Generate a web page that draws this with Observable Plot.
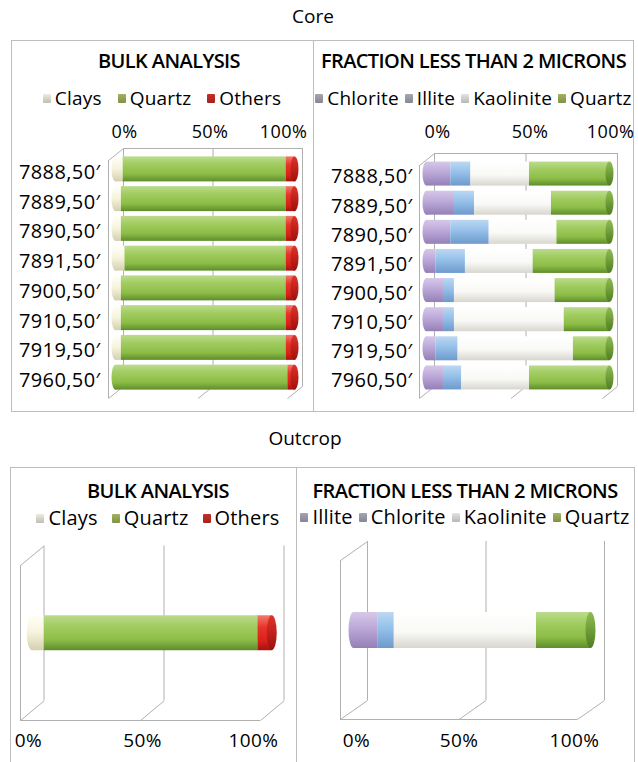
<!DOCTYPE html>
<html>
<head>
<meta charset="utf-8">
<script src="https://cdn.jsdelivr.net/npm/d3@7"></script>
<script src="https://cdn.jsdelivr.net/npm/@observablehq/plot@0.6"></script>
<style>
html,body{margin:0;padding:0;background:#fff;}
#page{position:relative;width:638px;height:762px;overflow:hidden;font-family:"Open Sans",sans-serif;color:#000;}
.box{position:absolute;border:1px solid #bdbdbd;box-sizing:border-box;}
.vline{position:absolute;width:1px;background:#bdbdbd;}
.txt{position:absolute;text-align:center;line-height:24px;white-space:nowrap;}
.head{font-size:19px;font-weight:500;}
.title{font-size:20px;font-weight:600;letter-spacing:-0.6px;}
.legend{position:absolute;display:flex;justify-content:center;align-items:center;gap:8px;font-size:19px;line-height:24px;white-space:nowrap;letter-spacing:0.2px;}
.legend .item{display:flex;align-items:center;gap:4px;}
.legend .sw{width:8px;height:9px;display:inline-block;border-radius:1px;}
.panel{position:absolute;}
</style>
</head>
<body>
<div id="page"></div>
<svg width="0" height="0" style="position:absolute">
  <defs>
    <linearGradient id="gGreen" x1="0" y1="0" x2="0" y2="1">
      <stop offset="0" stop-color="#bcdb8e"/><stop offset="0.3" stop-color="#a2cd62"/>
      <stop offset="0.7" stop-color="#8dbd47"/><stop offset="1" stop-color="#5e8d2b"/>
    </linearGradient>
    <linearGradient id="gGreenCap" x1="0" y1="0" x2="0" y2="1">
      <stop offset="0" stop-color="#8fbd52"/><stop offset="1" stop-color="#4f7d22"/>
    </linearGradient>
    <linearGradient id="gRed" x1="0" y1="0" x2="0" y2="1">
      <stop offset="0" stop-color="#f27a6c"/><stop offset="0.35" stop-color="#e8332a"/>
      <stop offset="0.75" stop-color="#d9201a"/><stop offset="1" stop-color="#a3130e"/>
    </linearGradient>
    <linearGradient id="gRedCap" x1="0" y1="0" x2="0" y2="1">
      <stop offset="0" stop-color="#e0332a"/><stop offset="1" stop-color="#9e100b"/>
    </linearGradient>
    <linearGradient id="gCream" x1="0" y1="0" x2="0" y2="1">
      <stop offset="0" stop-color="#fffff8"/><stop offset="0.5" stop-color="#f6f3dc"/>
      <stop offset="1" stop-color="#d3cfae"/>
    </linearGradient>
    <linearGradient id="gCreamCap" x1="0" y1="0" x2="0" y2="1">
      <stop offset="0" stop-color="#eeebd0"/><stop offset="1" stop-color="#c4c09c"/>
    </linearGradient>
    <linearGradient id="gPurple" x1="0" y1="0" x2="0" y2="1">
      <stop offset="0" stop-color="#d6c8e8"/><stop offset="0.45" stop-color="#bca8d9"/>
      <stop offset="1" stop-color="#9580b6"/>
    </linearGradient>
    <linearGradient id="gPurpleCap" x1="0" y1="0" x2="0" y2="1">
      <stop offset="0" stop-color="#b29fd0"/><stop offset="1" stop-color="#8570a8"/>
    </linearGradient>
    <linearGradient id="gBlue" x1="0" y1="0" x2="0" y2="1">
      <stop offset="0" stop-color="#bcd8f2"/><stop offset="0.45" stop-color="#95c0ea"/>
      <stop offset="1" stop-color="#6e9acb"/>
    </linearGradient>
    <linearGradient id="gBlueCap" x1="0" y1="0" x2="0" y2="1">
      <stop offset="0" stop-color="#8ab6e2"/><stop offset="1" stop-color="#5f8abd"/>
    </linearGradient>
    <linearGradient id="gWhite" x1="0" y1="0" x2="0" y2="1">
      <stop offset="0" stop-color="#ffffff"/><stop offset="0.55" stop-color="#f9f9f6"/>
      <stop offset="1" stop-color="#d8d6cf"/>
    </linearGradient>
    <linearGradient id="gWhiteCap" x1="0" y1="0" x2="0" y2="1">
      <stop offset="0" stop-color="#ecebe6"/><stop offset="1" stop-color="#c9c7bf"/>
    </linearGradient>
  </defs>
</svg>
<script>
// ---------------- DATA ----------------
const coreDepths = ["7888,50′", "7889,50′", "7890,50′", "7891,50′", "7900,50′", "7910,50′", "7919,50′", "7960,50′"];

const bulkCategories = ["Clays", "Quartz", "Others"];
const coreBulkClays  = [4, 3, 3, 5, 3, 3, 3, 0];
const coreBulkQuartz = [91, 92, 92, 90, 92, 92, 92, 96];
const coreBulkOthers = [5, 5, 5, 5, 5, 5, 5, 4];

const coreFracCategories = ["Chlorite", "Illite", "Kaolinite", "Quartz"];
const coreFracChlorite  = [13, 15, 13, 5, 9, 9, 5, 9];
const coreFracIllite    = [11, 11, 21, 16, 6, 6, 12, 10];
const coreFracKaolinite = [32, 42, 37, 37, 55, 60, 63, 37];
const coreFracQuartz    = [44, 32, 29, 42, 30, 25, 20, 44];

const outcropRows = ["Outcrop"];
const outcropBulkClays  = [5];
const outcropBulkQuartz = [89];
const outcropBulkOthers = [6];

const outcropFracCategories = ["Illite", "Chlorite", "Kaolinite", "Quartz"];
const outcropFracIllite    = [10];
const outcropFracChlorite  = [7];
const outcropFracKaolinite = [60];
const outcropFracQuartz    = [23];

const percentTicks = [0, 50, 100];

// ---------------- STYLE ----------------
const LINE = "#b0b0b0";
const bulkFills = ["url(#gCream)", "url(#gGreen)", "url(#gRed)"];
const bulkCaps  = ["url(#gCreamCap)", "url(#gGreenCap)", "url(#gRedCap)"];
const fracFills = ["url(#gPurple)", "url(#gBlue)", "url(#gWhite)", "url(#gGreen)"];
const fracCaps  = ["url(#gPurpleCap)", "url(#gBlueCap)", "url(#gWhiteCap)", "url(#gGreenCap)"];
const bulkSwatches = ["#ecebdc", "#a2b25a", "#c92d27"];
const fracSwatches = ["#a9a2b3", "#a3a8b2", "#e3e3e3", "#a2b25a"];

const page = document.getElementById("page");

function addBox(l, t, w, h) {
  const d = document.createElement("div");
  d.className = "box";
  Object.assign(d.style, {left: l + "px", top: t + "px", width: w + "px", height: h + "px"});
  page.appendChild(d);
}
function addVLine(x, t, h) {
  const d = document.createElement("div");
  d.className = "vline";
  Object.assign(d.style, {left: x + "px", top: t + "px", height: h + "px"});
  page.appendChild(d);
}
function addText(text, cls, left, width, centerY) {
  const d = document.createElement("div");
  d.className = "txt " + cls;
  d.textContent = text;
  Object.assign(d.style, {left: left + "px", width: width + "px", top: (centerY - 12) + "px"});
  page.appendChild(d);
}
function addLegend(cats, colors, left, width, centerY, gap, size) {
  const d = document.createElement("div");
  d.className = "legend";
  Object.assign(d.style, {left: left + "px", width: width + "px", top: (centerY - 12) + "px", gap: gap + "px", fontSize: size + "px"});
  cats.forEach((c, i) => {
    const it = document.createElement("span");
    it.className = "item";
    const sw = document.createElement("span");
    sw.className = "sw";
    sw.style.background = `linear-gradient(${colors[i]}, ${d3.color(colors[i]).darker(0.6)})`;
    const tx = document.createElement("span");
    tx.textContent = c;
    it.appendChild(sw); it.appendChild(tx);
    d.appendChild(it);
  });
  page.appendChild(d);
}

function makePanel(cfg) {
  const {rows, cats, series, fills, caps, box, front, depth, barH, capR, axis, tickDx, labelY, showRows} = cfg;
  const n = rows.length;
  const spanPx = front.x100 - front.x0;
  const rowPx = (front.bottom - front.top) / n;
  const DX = depth[0] / spanPx * 100;
  const DY = -depth[1] / rowPx;
  const hb = barH / 2 / rowPx;
  const cu = capR / spanPx * 100;

  const segs = [], leftCaps = [], rightCaps = [];
  rows.forEach((r, i) => {
    let cum = 0, first = null, last = null;
    cats.forEach((c, k) => {
      const v = series[k][i];
      if (v > 0) {
        segs.push({row: i, cat: c, x1: cum, x2: cum + v});
        if (first === null) first = c;
        last = c;
      }
      cum += v;
    });
    leftCaps.push({row: i, cat: first, x: 0});
    rightCaps.push({row: i, cat: last + " cap", x: cum});
  });

  const yMid = d => d.row + DY / 2;
  const top = -0.5, bottom = n - 0.5;
  const ticks = percentTicks.map((t, i) => ({t, dx: tickDx[i]}));

  const marks = [
    Plot.ruleX(percentTicks, {x: t => t + DX, y1: top + DY, y2: bottom + DY, stroke: LINE}),
    Plot.link(percentTicks, {x1: t => t, y1: bottom, x2: t => t + DX, y2: bottom + DY, stroke: LINE}),
    Plot.ruleX([0], {y1: top, y2: bottom, stroke: LINE}),
    Plot.link([0], {x1: 0, y1: top, x2: DX, y2: top + DY, stroke: LINE}),
  ];
  if (axis === "top") {
    marks.push(Plot.ruleY([top + DY], {x1: DX, x2: 100 + DX, stroke: LINE}));
  } else {
    marks.push(Plot.ruleY([bottom], {x1: 0, x2: 100, stroke: LINE}));
  }
  marks.push(
    Plot.rect(leftCaps, {x1: d => d.x + DX / 2 - cu, x2: d => d.x + DX / 2 + cu,
      y1: d => yMid(d) - hb, y2: d => yMid(d) + hb, fill: "cat", rx: capR, ry: barH / 2}),
    Plot.rect(segs, {x1: d => d.x1 + DX / 2, x2: d => d.x2 + DX / 2,
      y1: d => yMid(d) - hb, y2: d => yMid(d) + hb, fill: "cat"}),
    Plot.rect(rightCaps, {x1: d => d.x + DX / 2 - cu, x2: d => d.x + DX / 2 + cu,
      y1: d => yMid(d) - hb, y2: d => yMid(d) + hb, fill: "cat", rx: capR, ry: barH / 2})
  );
  if (axis === "top") {
    ticks.forEach(k => marks.push(Plot.text([k], {x: d => d.t + DX, y: top + DY,
      dy: labelY - (front.top - depth[1]), dx: k.dx, text: d => d.t + "%",
      fontSize: cfg.tickSize, fill: "#000"})));
  } else {
    ticks.forEach(k => marks.push(Plot.text([k], {x: d => d.t, y: bottom,
      dy: labelY - front.bottom, dx: k.dx, text: d => d.t + "%",
      fontSize: cfg.tickSize, fill: "#000"})));
  }
  if (showRows) {
    marks.push(Plot.text(rows, {x: 0, y: (d, i) => i + DY / 4, text: d => d,
      textAnchor: "end", dx: cfg.rowDx, fontSize: cfg.rowSize, fill: "#000"}));
  }

  const chart = Plot.plot({
    width: box.width,
    height: box.height,
    marginLeft: front.x0 - box.left,
    marginRight: box.left + box.width - front.x100,
    marginTop: front.top - box.top,
    marginBottom: box.top + box.height - front.bottom,
    x: {domain: [0, 100], axis: null},
    y: {domain: [top, bottom], reverse: true, axis: null},
    color: {type: "ordinal", domain: [...cats, ...cats.map(c => c + " cap")], range: [...fills, ...caps]},
    style: {fontFamily: "Open Sans, sans-serif", background: "transparent", overflow: "visible", letterSpacing: "0.4px"},
    marks
  });
  const wrap = document.createElement("div");
  wrap.className = "panel";
  Object.assign(wrap.style, {left: box.left + "px", top: box.top + "px"});
  wrap.appendChild(chart);
  page.appendChild(wrap);
}

// ---------------- LAYOUT ----------------
addText("Core", "head", 0, 626, 16);
addBox(11, 40, 623, 372);
addVLine(313, 40, 372);

addText("BULK ANALYSIS", "title", 11, 316, 61);
addLegend(bulkCategories, bulkSwatches, 11, 302, 98, 16, 19);
addText("FRACTION LESS THAN 2 MICRONS", "title", 313, 321, 61);
addLegend(coreFracCategories, fracSwatches, 313, 321, 98, 6, 19);

makePanel({
  rows: coreDepths, cats: bulkCategories,
  series: [coreBulkClays, coreBulkQuartz, coreBulkOthers],
  fills: bulkFills, caps: bulkCaps,
  box: {left: 11, top: 112, width: 302, height: 298},
  front: {x0: 108, x100: 287, top: 160, bottom: 398},
  depth: [15, 12], barH: 25, capR: 4,
  axis: "top", tickDx: [1, -3, -19], labelY: 132, tickSize: 18,
  showRows: true, rowDx: -8, rowSize: 20
});
makePanel({
  rows: coreDepths, cats: coreFracCategories,
  series: [coreFracChlorite, coreFracIllite, coreFracKaolinite, coreFracQuartz],
  fills: fracFills, caps: fracCaps,
  box: {left: 313, top: 112, width: 320, height: 298},
  front: {x0: 419, x100: 602, top: 165, bottom: 398},
  depth: [15, 12], barH: 24, capR: 4,
  axis: "top", tickDx: [3, 4, -7], labelY: 132, tickSize: 18,
  showRows: true, rowDx: -7, rowSize: 20
});

addText("Outcrop", "head", 0, 610, 438);
addBox(10, 467, 625, 310);
addVLine(296, 467, 300);

addText("BULK ANALYSIS", "title", 10, 296, 491);
addLegend(bulkCategories, bulkSwatches, 10, 296, 518, 14, 20);
addText("FRACTION LESS THAN 2 MICRONS", "title", 296, 338, 491);
addLegend(outcropFracCategories, fracSwatches, 296, 338, 517, 6, 20);

makePanel({
  rows: outcropRows, cats: bulkCategories,
  series: [outcropBulkClays, outcropBulkQuartz, outcropBulkOthers],
  fills: bulkFills, caps: bulkCaps,
  box: {left: 10, top: 530, width: 286, height: 232},
  front: {x0: 20, x100: 260, top: 565, bottom: 720},
  depth: [23.5, 19.5], barH: 35, capR: 5,
  axis: "bottom", tickDx: [8, 2, -7], labelY: 740, tickSize: 19,
  showRows: false
});
makePanel({
  rows: outcropRows, cats: outcropFracCategories,
  series: [outcropFracIllite, outcropFracChlorite, outcropFracKaolinite, outcropFracQuartz],
  fills: fracFills, caps: fracCaps,
  box: {left: 296, top: 530, width: 338, height: 232},
  front: {x0: 340, x100: 577, top: 560, bottom: 719},
  depth: [27, 19], barH: 36, capR: 5,
  axis: "bottom", tickDx: [16, 0, -3], labelY: 740, tickSize: 19,
  showRows: false
});
</script>
</body>
</html>
